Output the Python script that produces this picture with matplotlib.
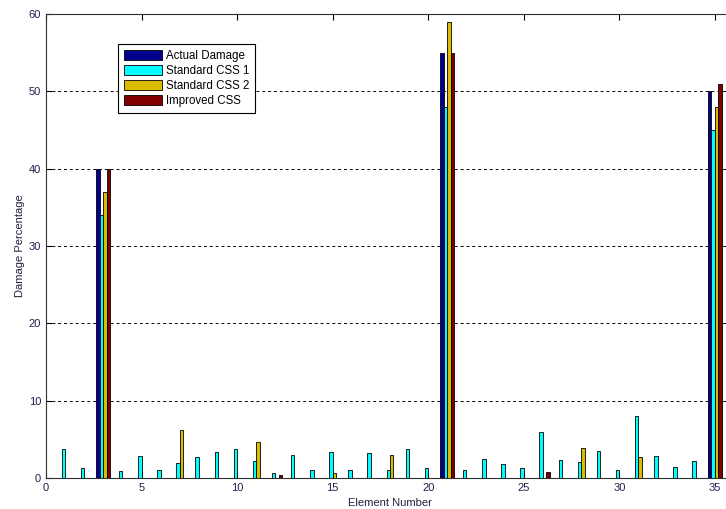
import numpy as np
import matplotlib.pyplot as plt

plt.rcParams['font.family'] = ['Liberation Sans', 'DejaVu Sans']

# damage percentage per element (1..35)
elements = np.arange(1, 36)
actual = [0, 0, 40, 0, 0, 0, 0, 0, 0, 0,
          0, 0, 0, 0, 0, 0, 0, 0, 0, 0,
          55, 0, 0, 0, 0, 0, 0, 0, 0, 0,
          0, 0, 0, 0, 50]
css1 = [3.8, 1.3, 34, 0.9, 2.9, 1.0, 2.0, 2.7, 3.4, 3.8,
        2.2, 0.6, 3.0, 1.0, 3.3, 1.0, 3.2, 1.0, 3.7, 1.3,
        48, 1.0, 2.4, 1.8, 1.3, 6.0, 2.3, 2.1, 3.5, 1.0,
        8.0, 2.9, 1.4, 2.2, 45]
css2 = [0, 0, 37, 0, 0, 0, 6.2, 0, 0, 0,
        4.7, 0, 0, 0, 0.7, 0, 0, 3.0, 0, 0,
        59, 0, 0, 0, 0, 0, 0, 3.9, 0, 0,
        2.7, 0, 0, 0, 48]
improved = [0, 0, 40, 0, 0, 0, 0, 0, 0, 0,
            0, 0.4, 0, 0, 0, 0, 0, 0, 0, 0,
            55, 0, 0, 0, 0, 0.8, 0, 0, 0, 0,
            0, 0, 0, 0, 51]

series = [actual, css1, css2, improved]
names = ['Actual Damage', 'Standard CSS 1', 'Standard CSS 2', 'Improved CSS']
colors = ['#00008c', '#00ffff', '#dcbc00', '#800000']

fig = plt.figure(figsize=(7.26, 5.09), dpi=100)
ax = fig.add_axes([46 / 726, 31 / 509, 688 / 726, 464 / 509])

# grouped bars, MATLAB-style spacing
step = 0.182
width = 0.18
for i, (vals, name, col) in enumerate(zip(series, names, colors)):
    offset = (i - 1.5) * step
    vals = np.array(vals, dtype=float)
    keep = vals > 0
    ax.bar(elements[keep] + offset, vals[keep], width=width, color=col,
           edgecolor='black', linewidth=0.6, label=name, zorder=3)

ax.set_xlim(0, 36)
ax.set_ylim(0, 60)
ax.set_xticks(np.arange(0, 36, 5))
ax.set_yticks(np.arange(0, 61, 10))
ax.yaxis.grid(True, linestyle=(0, (3, 3)), color='black', linewidth=0.7)
ax.set_axisbelow(True)
ax.tick_params(direction='in', length=4, labelsize=8, colors='black',
               labelcolor='#202050', top=True, right=True)
for sp in ax.spines.values():
    sp.set_linewidth(0.8)
    sp.set_color('#303030')

ax.set_xlabel('Element Number', fontsize=8, labelpad=4, color='#202040')
ax.set_ylabel('Damage Percentage', fontsize=8, labelpad=3, color='#202040')

leg = ax.legend(loc='upper left', bbox_to_anchor=(118 / 726, 1 - 44 / 509),
                bbox_transform=fig.transFigure, borderaxespad=0,
                fontsize=8.3, handlelength=3.3, handleheight=1.0,
                labelspacing=0.25, handletextpad=0.35, borderpad=0.5,
                fancybox=False, framealpha=1, edgecolor='black')
leg.get_frame().set_linewidth(0.8)

fig.savefig('out.png', dpi=100)
